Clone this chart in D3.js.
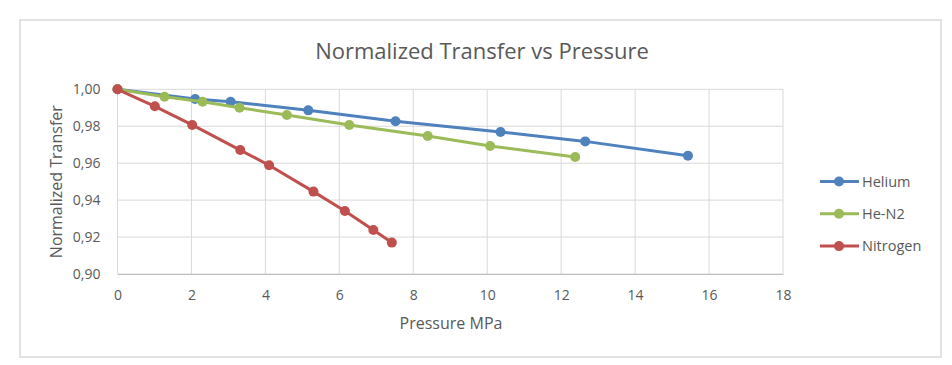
<!DOCTYPE html>
<html>
<head>
<meta charset="utf-8">
<script src="https://cdn.jsdelivr.net/npm/d3@7"></script>
<style>
  body { margin: 0; background: #fff; }
  text { font-family: "Open Sans", sans-serif; fill: #595959; }
</style>
</head>
<body>
<svg id="chart" width="952" height="365"></svg>
<script>
// values
var helium = [[0, 1.000], [2.10, 0.9947], [3.06, 0.9933], [5.16, 0.9886], [7.52, 0.9827], [10.36, 0.9769], [12.65, 0.9718], [15.43, 0.9640]];
var heN2 = [[0, 1.000], [1.27, 0.9960], [2.30, 0.9933], [3.30, 0.9900], [4.58, 0.9861], [6.27, 0.9807], [8.39, 0.9747], [10.08, 0.9693], [12.38, 0.9633]];
var nitrogen = [[0, 1.000], [1.01, 0.9908], [2.02, 0.9807], [3.32, 0.9671], [4.10, 0.9589], [5.30, 0.9446], [6.15, 0.9341], [6.92, 0.9238], [7.42, 0.9170]];
var seriesNames = ['Helium', 'He-N2', 'Nitrogen'];
var xTicks = [0, 2, 4, 6, 8, 10, 12, 14, 16, 18];
var yTicks = [0.90, 0.92, 0.94, 0.96, 0.98, 1.00];

var colors = ['#4f81bd', '#9bbb59', '#c0504d'];
var allSeries = [helium, heN2, nitrogen];

var svg = d3.select('#chart');
var plot = {left: 117.5, right: 783, top: 89.3, bottom: 274};

var x = d3.scaleLinear().domain([0, 18]).range([plot.left, plot.right]);
var y = d3.scaleLinear().domain([0.90, 1.00]).range([plot.bottom, plot.top]);

// outer frame
svg.append('rect')
  .attr('x', 20).attr('y', 20)
  .attr('width', 921).attr('height', 337)
  .attr('fill', '#fff')
  .attr('stroke', '#d9d9d9')
  .attr('stroke-width', 1.5);

// gridlines
svg.append('g').selectAll('line.v')
  .data(xTicks).enter().append('line')
  .attr('x1', function(d){ return x(d); }).attr('x2', function(d){ return x(d); })
  .attr('y1', plot.top).attr('y2', plot.bottom)
  .attr('stroke', '#d9d9d9').attr('stroke-width', 1);
svg.append('g').selectAll('line.h')
  .data(yTicks).enter().append('line')
  .attr('x1', plot.left).attr('x2', plot.right)
  .attr('y1', function(d){ return y(d); }).attr('y2', function(d){ return y(d); })
  .attr('stroke', '#d9d9d9').attr('stroke-width', 1);

// axes
var fmt = function(d){ return d3.format('.2f')(d).replace('.', ','); };
var xAxis = svg.append('g')
  .attr('transform', 'translate(0,' + plot.bottom + ')')
  .call(d3.axisBottom(x).tickValues(xTicks).tickSize(0).tickPadding(16));
var yAxis = svg.append('g')
  .attr('transform', 'translate(' + plot.left + ',0)')
  .call(d3.axisLeft(y).tickValues(yTicks).tickFormat(fmt).tickSize(0).tickPadding(17));
[xAxis, yAxis].forEach(function(a){
  a.select('.domain').attr('stroke', '#bfbfbf');
  a.selectAll('text').attr('font-size', 14).attr('fill', '#595959')
    .style('font-family', '"Open Sans", sans-serif');
});
yAxis.select('.domain').remove();

// titles
svg.append('text')
  .attr('x', 482).attr('y', 59)
  .attr('text-anchor', 'middle')
  .attr('font-size', 22)
  .text('Normalized Transfer vs Pressure');
svg.append('text')
  .attr('x', 451).attr('y', 329)
  .attr('text-anchor', 'middle')
  .attr('font-size', 16)
  .text('Pressure MPa');
svg.append('text')
  .attr('transform', 'translate(62,' + ((plot.top + plot.bottom) / 2) + ') rotate(-90)')
  .attr('text-anchor', 'middle')
  .attr('font-size', 16)
  .text('Normalized Transfer');

// series
var line = d3.line()
  .x(function(d){ return x(d[0]); })
  .y(function(d){ return y(d[1]); });

allSeries.forEach(function(data, i){
  var g = svg.append('g');
  g.append('path')
    .datum(data)
    .attr('d', line)
    .attr('fill', 'none')
    .attr('stroke', colors[i])
    .attr('stroke-width', 3)
    .attr('stroke-linejoin', 'round');
  g.selectAll('circle')
    .data(data).enter().append('circle')
    .attr('cx', function(d){ return x(d[0]); })
    .attr('cy', function(d){ return y(d[1]); })
    .attr('r', 5)
    .attr('fill', colors[i]);
});

// legend
var legend = svg.append('g');
seriesNames.forEach(function(name, i){
  var ly = 181.5 + i * 32.3;
  legend.append('line')
    .attr('x1', 820).attr('x2', 859)
    .attr('y1', ly).attr('y2', ly)
    .attr('stroke', colors[i]).attr('stroke-width', 3);
  legend.append('circle')
    .attr('cx', 839).attr('cy', ly).attr('r', 5)
    .attr('fill', colors[i]);
  legend.append('text')
    .attr('x', 862).attr('y', ly + 5)
    .attr('font-size', 14.5)
    .text(name);
});
</script>
</body>
</html>
